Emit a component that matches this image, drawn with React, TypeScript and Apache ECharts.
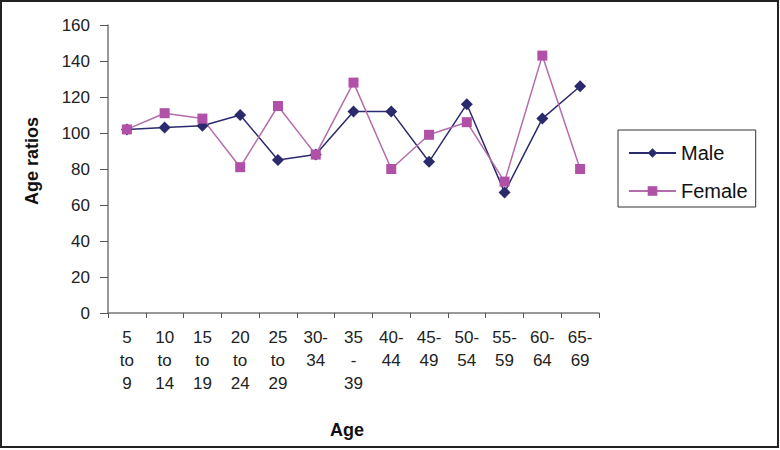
import React, { useEffect, useRef } from "react";
import * as echarts from "echarts";

const categories = ["5\nto\n9", "10\nto\n14", "15\nto\n19", "20\nto\n24", "25\nto\n29", "30-\n34", "35\n-\n39", "40-\n44", "45-\n49", "50-\n54", "55-\n59", "60-\n64", "65-\n69"];
const maleValues = [102, 103, 104, 110, 85, 88, 112, 112, 84, 116, 67, 108, 126];
const femaleValues = [102, 111, 108, 81, 115, 88, 128, 80, 99, 106, 73, 143, 80];
const yTicks = { min: 0, max: 160, interval: 20 };

const FONT = "'Liberation Sans', Arial, sans-serif";
const MALE = "#2B2A6C";
const FEMALE_LINE = "#B46CAA";
const FEMALE_MARK = "#B050A6";

export default function App() {
  const ref = useRef<HTMLDivElement>(null);
  useEffect(() => {
    document.body.style.margin = "0";
    const chart = echarts.init(ref.current!, null, { renderer: "svg" });
    chart.setOption({
      animation: false,
      backgroundColor: "#ffffff",
      grid: { left: 108, right: 181, top: 25, bottom: 137, containLabel: false },
      legend: {
        orient: "vertical",
        left: 618,
        top: 130,
        borderColor: "#333",
        borderWidth: 1,
        padding: [13, 8, 6, 10],
        itemWidth: 47,
        itemHeight: 12,
        itemGap: 18,
        textStyle: { fontFamily: FONT, fontSize: 20, color: "#111", lineHeight: 20 },
        data: ["Male", "Female"],
      },
      xAxis: {
        type: "category",
        data: categories,
        boundaryGap: true,
        axisLine: { lineStyle: { color: "#777", width: 1.5 } },
        axisTick: { show: true, length: 5, lineStyle: { color: "#555" } },
        axisLabel: {
          interval: 0,
          margin: 13,
          fontFamily: FONT,
          fontSize: 17,
          color: "#222",
          lineHeight: 23,
        },
      },
      yAxis: {
        type: "value",
        min: yTicks.min,
        max: yTicks.max,
        interval: yTicks.interval,
        splitLine: { show: false },
        axisLine: { show: true, lineStyle: { color: "#777", width: 1.5 } },
        axisTick: { show: true, length: 8, lineStyle: { color: "#555" } },
        axisLabel: { margin: 18, fontFamily: FONT, fontSize: 17, color: "#222" },
      },
      series: [
        {
          name: "Male",
          type: "line",
          data: maleValues,
          symbol: "diamond",
          symbolSize: 12,
          lineStyle: { color: MALE, width: 1.5 },
          itemStyle: { color: MALE },
        },
        {
          name: "Female",
          type: "line",
          data: femaleValues,
          symbol: "rect",
          symbolSize: 10,
          lineStyle: { color: FEMALE_LINE, width: 1.5 },
          itemStyle: { color: FEMALE_MARK },
        },
      ],
      graphic: [
        {
          type: "rect",
          shape: { x: 1, y: 1, width: 777, height: 446 },
          style: { fill: "none", stroke: "#222", lineWidth: 2 },
          silent: true,
        },
        {
          type: "text",
          x: 32,
          y: 161,
          rotation: Math.PI / 2,
          style: {
            text: "Age ratios",
            fontFamily: FONT,
            fontSize: 18,
            fontWeight: "bold",
            fill: "#111",
            align: "center",
            verticalAlign: "middle",
          },
        },
        {
          type: "text",
          x: 347,
          y: 430,
          style: {
            text: "Age",
            fontFamily: FONT,
            fontSize: 18,
            fontWeight: "bold",
            fill: "#111",
            align: "center",
            verticalAlign: "middle",
          },
        },
      ],
    });
    return () => chart.dispose();
  }, []);
  return <div ref={ref} style={{ width: 780, height: 450 }} />;
}
